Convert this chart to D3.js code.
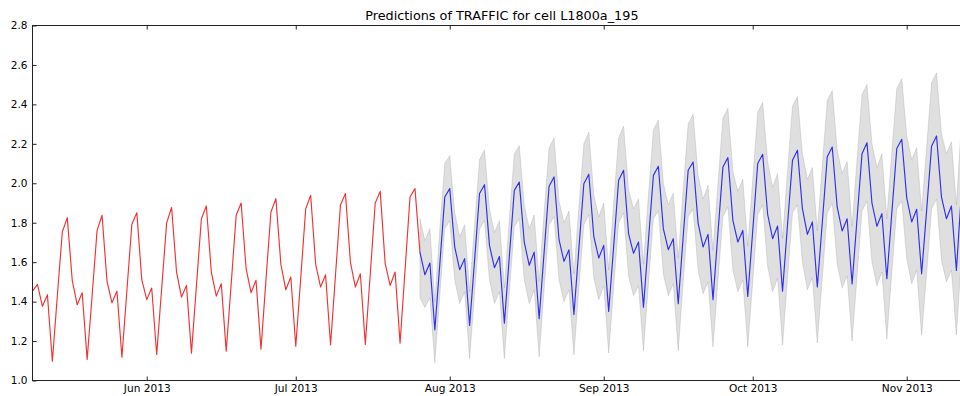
<!DOCTYPE html>
<html>
<head>
<meta charset="utf-8">
<script src="https://cdn.jsdelivr.net/npm/d3@7"></script>
<style>
  html, body { margin: 0; padding: 0; background: #fff; }
  svg { display: block; }
  text { font-family: "DejaVu Sans", sans-serif; fill: #000; }
</style>
</head>
<body>
<svg id="chart" width="960" height="396"></svg>
<script>
// ---- data -------------------------------------------------------------
const chartTitle = "Predictions of TRAFFIC for cell L1800a_195";
const firstDay = Date.UTC(2013, 4, 9);   // first daily sample
const lastDay = Date.UTC(2013, 10, 14);  // right end of the time axis
const forecastStart = 78;                // day index where the forecast begins

// observed daily traffic, day 0 .. day 78
const actualTraffic = [
  1.453, 1.487, 1.376, 1.435, 1.098, 1.43, 1.753,
  1.826, 1.508, 1.384, 1.445, 1.107, 1.43, 1.761,
  1.838, 1.503, 1.394, 1.453, 1.118, 1.455, 1.792,
  1.851, 1.511, 1.41, 1.469, 1.132, 1.465, 1.798,
  1.877, 1.55, 1.423, 1.482, 1.139, 1.48, 1.82,
  1.885, 1.55, 1.428, 1.491, 1.149, 1.49, 1.838,
  1.90, 1.567, 1.445, 1.508, 1.159, 1.51, 1.854,
  1.922, 1.59, 1.46, 1.525, 1.174, 1.52, 1.87,
  1.939, 1.59, 1.474, 1.536, 1.181, 1.535, 1.89,
  1.948, 1.60, 1.474, 1.541, 1.183, 1.54, 1.90,
  1.959, 1.592, 1.482, 1.55, 1.189, 1.56, 1.93,
  1.973, 1.651
];

// predicted daily traffic, day 78 .. day 188
const predictedTraffic = [
  1.651, 1.536, 1.596,
  1.257, 1.59, 1.93, 1.973, 1.677, 1.562, 1.618,
  1.279, 1.61, 1.948, 1.993, 1.685, 1.572, 1.629,
  1.291, 1.63, 1.964, 2.006, 1.702, 1.584, 1.651,
  1.313, 1.65, 1.985, 2.032, 1.714, 1.604, 1.663,
  1.335, 1.67, 1.998, 2.046, 1.731, 1.621, 1.685,
  1.35, 1.68, 2.015, 2.066, 1.745, 1.645, 1.702,
  1.372, 1.71, 2.04, 2.086, 1.77, 1.663, 1.719,
  1.389, 1.73, 2.066, 2.108, 1.798, 1.677, 1.741,
  1.41, 1.75, 2.083, 2.13, 1.812, 1.702, 1.761,
  1.426, 1.76, 2.10, 2.147, 1.843, 1.719, 1.783,
  1.453, 1.79, 2.117, 2.168, 1.871, 1.741, 1.804,
  1.474, 1.80, 2.134, 2.184, 1.88, 1.758, 1.82,
  1.49, 1.82, 2.15, 2.205, 1.90, 1.782, 1.846,
  1.516, 1.85, 2.176, 2.223, 1.926, 1.804, 1.868,
  1.541, 1.86, 2.188, 2.24, 1.93, 1.82, 1.885,
  1.558, 1.95, 2.21
];

// upper edge of the prediction interval, day 78 .. day 188
const predictedUpper = [
  1.82, 1.71, 1.77,
  1.40, 1.77, 2.10, 2.14, 1.85, 1.73, 1.79,
  1.45, 1.79, 2.12, 2.17, 1.87, 1.75, 1.81,
  1.47, 1.82, 2.15, 2.19, 1.89, 1.77, 1.84,
  1.50, 1.85, 2.18, 2.23, 1.91, 1.80, 1.86,
  1.54, 1.88, 2.20, 2.26, 1.94, 1.83, 1.90,
  1.56, 1.90, 2.23, 2.29, 1.97, 1.87, 1.92,
  1.59, 1.94, 2.27, 2.32, 2.00, 1.89, 1.95,
  1.62, 1.97, 2.30, 2.35, 2.04, 1.92, 1.99,
  1.66, 2.00, 2.33, 2.38, 2.06, 1.96, 2.02,
  1.68, 2.02, 2.36, 2.41, 2.11, 1.98, 2.05,
  1.72, 2.06, 2.39, 2.44, 2.15, 2.02, 2.08,
  1.76, 2.09, 2.42, 2.47, 2.17, 2.05, 2.11,
  1.78, 2.12, 2.45, 2.50, 2.20, 2.08, 2.15,
  1.82, 2.16, 2.48, 2.53, 2.24, 2.12, 2.18,
  1.86, 2.18, 2.51, 2.56, 2.25, 2.15, 2.21,
  1.89, 2.30, 2.54
];

// lower edge of the prediction interval, day 78 .. day 188
const predictedLower = [
  1.42, 1.37, 1.42,
  1.09, 1.43, 1.77, 1.81, 1.51, 1.39, 1.45,
  1.11, 1.44, 1.77, 1.81, 1.51, 1.39, 1.45,
  1.11, 1.45, 1.78, 1.82, 1.51, 1.39, 1.46,
  1.12, 1.46, 1.79, 1.83, 1.51, 1.40, 1.46,
  1.13, 1.47, 1.79, 1.84, 1.52, 1.41, 1.48,
  1.14, 1.47, 1.80, 1.85, 1.53, 1.43, 1.48,
  1.15, 1.49, 1.82, 1.86, 1.54, 1.43, 1.49,
  1.15, 1.50, 1.83, 1.87, 1.56, 1.44, 1.50,
  1.17, 1.51, 1.83, 1.88, 1.56, 1.45, 1.51,
  1.17, 1.50, 1.84, 1.89, 1.58, 1.45, 1.52,
  1.18, 1.52, 1.85, 1.89, 1.60, 1.46, 1.52,
  1.19, 1.52, 1.85, 1.90, 1.59, 1.47, 1.53,
  1.20, 1.53, 1.86, 1.91, 1.60, 1.48, 1.55,
  1.21, 1.55, 1.87, 1.91, 1.62, 1.49, 1.56,
  1.23, 1.54, 1.87, 1.92, 1.61, 1.50, 1.56,
  1.23, 1.62, 1.88
];

const yTickValues = [1.0, 1.2, 1.4, 1.6, 1.8, 2.0, 2.2, 2.4, 2.6, 2.8];
const yTickLabels = ["1.0", "1.2", "1.4", "1.6", "1.8", "2.0", "2.2", "2.4", "2.6", "2.8"];

// ---- layout -------------------------------------------------------------
const plot = { left: 32.5, right: 971.3, top: 25.5, bottom: 380.5 };
const DAY = 86400000;
const dayDate = i => new Date(firstDay + i * DAY);

const svg = d3.select("#chart");

const x = d3.scaleUtc()
  .domain([new Date(firstDay), new Date(lastDay)])
  .range([plot.left, plot.right]);

const y = d3.scaleLinear()
  .domain([yTickValues[0], yTickValues[yTickValues.length - 1]])
  .range([plot.bottom, plot.top]);

svg.append("defs").append("clipPath").attr("id", "plot-clip")
  .append("rect")
  .attr("x", plot.left).attr("y", plot.top)
  .attr("width", plot.right - plot.left)
  .attr("height", plot.bottom - plot.top);

const layer = svg.append("g").attr("clip-path", "url(#plot-clip)");

// ---- series -------------------------------------------------------------
const actualPts = actualTraffic.map((v, i) => ({ t: dayDate(i), v }));
const forecastPts = predictedTraffic.map((v, i) => ({
  t: dayDate(forecastStart + i),
  v,
  hi: predictedUpper[i],
  lo: predictedLower[i]
}));

layer.append("path")
  .datum(forecastPts)
  .attr("d", d3.area().x(d => x(d.t)).y0(d => y(d.lo)).y1(d => y(d.hi)))
  .attr("fill", "#808080").attr("fill-opacity", 0.25)
  .attr("stroke", "#808080").attr("stroke-opacity", 0.22).attr("stroke-width", 1);

const line = d3.line().x(d => x(d.t)).y(d => y(d.v));

layer.append("path")
  .datum(actualPts)
  .attr("d", line)
  .attr("fill", "none").attr("stroke", "#f03232").attr("stroke-width", 1.15)
  .attr("stroke-linejoin", "round");

layer.append("path")
  .datum(forecastPts)
  .attr("d", line)
  .attr("fill", "none").attr("stroke", "#2f2ff0").attr("stroke-width", 1.15)
  .attr("stroke-linejoin", "round");

// ---- axes (inward ticks, classic frame) ---------------------------------
const monthTicks = d3.utcMonth.range(d3.utcMonth.ceil(new Date(firstDay)), new Date(lastDay));

const xAxis = d3.axisBottom(x)
  .tickValues(monthTicks)
  .tickFormat(d3.utcFormat("%b %Y"))
  .tickSize(-4).tickPadding(3.5);

const gx = svg.append("g").attr("transform", `translate(0,${plot.bottom})`).call(xAxis);
gx.select(".domain").remove();
gx.selectAll("text").attr("font-size", "10.6px").attr("font-family", "DejaVu Sans");
gx.selectAll("line").attr("stroke", "#222");

const gxTop = svg.append("g").attr("transform", `translate(0,${plot.top})`)
  .call(d3.axisTop(x).tickValues(monthTicks).tickSize(-4).tickFormat(""));
gxTop.select(".domain").remove();
gxTop.selectAll("line").attr("stroke", "#222");

const yAxis = d3.axisLeft(y)
  .tickValues(yTickValues)
  .tickFormat((d, i) => yTickLabels[i])
  .tickSize(-4).tickPadding(5);

const gy = svg.append("g").attr("transform", `translate(${plot.left},0)`).call(yAxis);
gy.select(".domain").remove();
gy.selectAll("text").attr("font-size", "10.5px").attr("font-family", "DejaVu Sans");
gy.selectAll("line").attr("stroke", "#222");

svg.append("rect")
  .attr("x", plot.left).attr("y", plot.top)
  .attr("width", plot.right - plot.left)
  .attr("height", plot.bottom - plot.top)
  .attr("fill", "none").attr("stroke", "#222").attr("stroke-width", 1);

// ---- title --------------------------------------------------------------
svg.append("text")
  .attr("x", (plot.left + plot.right) / 2)
  .attr("y", 20)
  .attr("text-anchor", "middle")
  .attr("font-size", "12.8px")
  .text(chartTitle);
</script>
</body>
</html>
